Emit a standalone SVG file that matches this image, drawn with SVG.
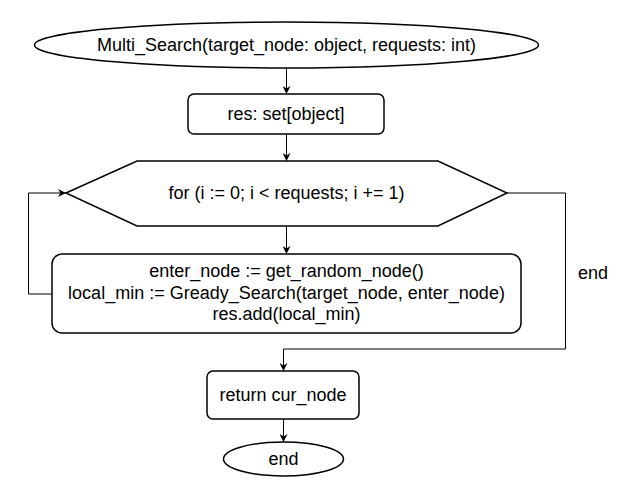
<svg xmlns="http://www.w3.org/2000/svg" width="634" height="498" viewBox="0 0 634 498">
<style>
.s{fill:#fff;stroke:#000;stroke-width:1.5}
.t{font-family:"Liberation Sans",Arial,sans-serif;font-size:18px;fill:#000;text-anchor:middle;dominant-baseline:central}
.c{fill:none;stroke:#000;stroke-width:1}
</style>
<defs>
<marker id="a" viewBox="0 0 10 10" refX="10" refY="5" markerWidth="8" markerHeight="8" markerUnits="userSpaceOnUse" orient="auto">
<path d="M0,0 L10,5 L0,10 L3,5 Z" fill="#000"/>
</marker>
</defs>
<rect width="634" height="498" fill="#fff"/>
<g id="connectors">
<path class="c" d="M286.5,68 V94" marker-end="url(#a)"/>
<path class="c" d="M286.5,134 V161" marker-end="url(#a)"/>
<path class="c" d="M286.5,226 V254" marker-end="url(#a)"/>
<path class="c" d="M52,294 H28.5 V193 H66" marker-end="url(#a)"/>
<path class="c" d="M507,193 H565.5 V349 H283.5 V371" marker-end="url(#a)"/>
<path class="c" d="M283.5,419 V442" marker-end="url(#a)"/>
<text class="t" x="593" y="273">end</text>
</g>
<g id="start">
<ellipse class="s" cx="286.5" cy="45" rx="252" ry="23"/>
<text class="t" x="286.5" y="45">Multi_Search(target_node: object, requests: int)</text>
</g>
<g id="init">
<rect class="s" x="188" y="94" width="196" height="40" rx="6"/>
<text class="t" x="286" y="114">res: set[object]</text>
</g>
<g id="loop">
<polygon class="s" points="66,193 137,161 438,161 507,193 438,226 137,226"/>
<text class="t" x="286.5" y="193">for (i := 0; i &lt; requests; i += 1)</text>
</g>
<g id="body">
<rect class="s" x="52" y="254" width="469" height="79" rx="10"/>
<text class="t" x="286.5" y="271">enter_node := get_random_node()</text>
<text class="t" x="286.5" y="293">local_min := Gready_Search(target_node, enter_node)</text>
<text class="t" x="286.5" y="314">res.add(local_min)</text>
</g>
<g id="ret">
<rect class="s" x="207" y="371" width="152" height="48" rx="6"/>
<text class="t" x="283" y="395">return cur_node</text>
</g>
<g id="end">
<ellipse class="s" cx="283.5" cy="459" rx="60" ry="17"/>
<text class="t" x="283.5" y="459">end</text>
</g>
</svg>
